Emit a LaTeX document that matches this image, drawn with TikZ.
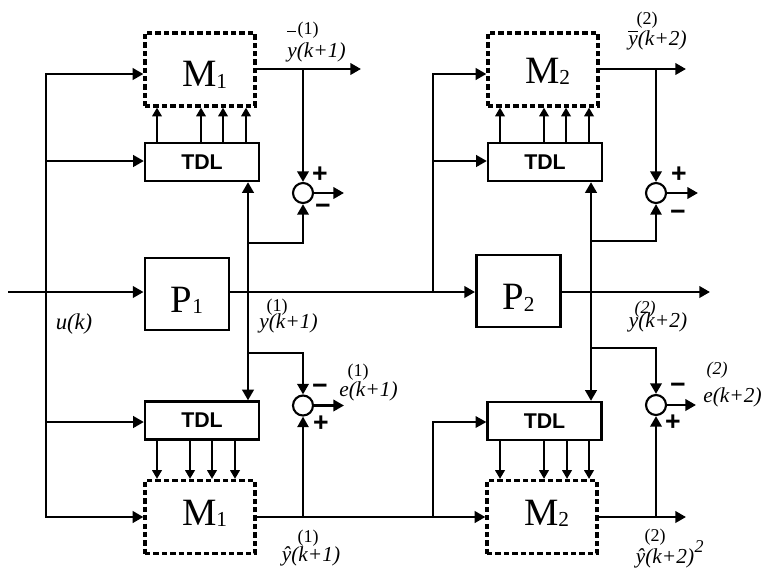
\documentclass[tikz,border=0pt]{standalone}
\usepackage{fontspec}
\setmainfont{Liberation Serif}
\setsansfont{Liberation Sans}
\usetikzlibrary{arrows.meta}
\newcommand\blk[4]{\smash{\raisebox{#1}{\hspace*{#2}#3\raisebox{-1pt}{\fontsize{16}{16}\selectfont #4}}}}
\newcommand\ybar[2]{\rlap{\smash{\raisebox{#1}{\rule{#2}{0.06em}}}}}
\begin{document}
\begin{tikzpicture}[x=0.75pt,y=-0.75pt,
  ln/.style={line width=2.0pt},
  lnthin/.style={line width=1.4pt},
  arr/.style={ln,-{Triangle[length=8pt,width=8.5pt]}},
  arrthin/.style={lnthin,-{Triangle[length=8pt,width=8.5pt]}},
  sarr/.style={line width=1.8pt,-{Triangle[length=6.5pt,width=7pt]}},
  mbox/.style={draw,line width=2.4pt,dash pattern=on 4pt off 2.3pt,minimum width=82.5pt,minimum height=54.75pt,inner sep=0pt,font=\fontsize{29}{30}\selectfont},
  tdl/.style={draw,line width=1.7pt,minimum width=85.5pt,minimum height=28.5pt,inner sep=0pt,font=\sffamily\bfseries\fontsize{16}{16}\selectfont},
  pbox/.style={draw,line width=2.2pt,minimum width=63pt,minimum height=54pt,inner sep=0pt,font=\fontsize{29}{30}\selectfont},
  sum/.style={draw,circle,line width=1.6pt,minimum size=15pt,inner sep=0pt},
  sgn/.style={inner sep=0pt,font=\sffamily\bfseries\fontsize{20}{20}\selectfont},
  lab/.style={inner sep=0pt,font=\itshape\fontsize{16}{16}\selectfont},
  sup/.style={inner sep=0pt,font=\fontsize{13.5}{14}\selectfont},
  supit/.style={inner sep=0pt,font=\itshape\fontsize{13.5}{14}\selectfont},
]
\path[fill=white,use as bounding box] (0,0) rectangle (762,568);

% blocks
\node[mbox] (M1a) at (200,69.5) {\blk{-13pt}{6.8pt}{M}{1}};
\node[tdl]  (TDL1a) at (202,162) {TDL};
\node[pbox] (P1) at (187,294) {\blk{-13.5pt}{0pt}{P}{1}};
\node[tdl]  (TDL1b) at (202,420.5) {TDL};
\node[mbox] (M1b) at (200,517) {\blk{-6pt}{6.8pt}{M}{1}};
\node[mbox] (M2a) at (543,69.5) {\blk{-10.5pt}{6.8pt}{M}{2}};
\node[tdl]  (TDL2a) at (545,162) {TDL};
\node[pbox] (P2) at (518.5,291) {\blk{-14pt}{0pt}{P}{2}};
\node[tdl]  (TDL2b) at (544.5,421) {TDL};
\node[mbox] (M2b) at (542,517) {\blk{-6pt}{6.8pt}{M}{2}};

% summing junctions
\node[sum] (S1a) at (303,193) {};
\node[sum] (S1b) at (303,405.5) {};
\node[sum] (S2a) at (656,193) {};
\node[sum] (S2b) at (656,405) {};

% signs
\node[sgn] (sp1a) at (320,175) {+};
\node[sgn] (sm1a) at (323,209) {−};
\node[sgn] (sp2a) at (679,175) {+};
\node[sgn] (sm2a) at (678,215) {−};
\node[sgn] (sm1b) at (320,389) {−};
\node[sgn] (sp1b) at (321,424) {+};
\node[sgn] (sm2b) at (678,388) {−};
\node[sgn] (sp2b) at (673,423) {+};

% coordinates
\coordinate (in) at (8,292);
\coordinate (bus1) at (46,74);
\coordinate (bus2) at (46,161);
\coordinate (bus3) at (46,422);
\coordinate (bus4) at (46,517);
\coordinate (j1) at (248,292);
\coordinate (k1) at (248,243);
\coordinate (k2) at (248,353);
\coordinate (o1) at (361,69);
\coordinate (e1a) at (344,193);
\coordinate (e1b) at (344,405.5);
\coordinate (j2) at (433,292);
\coordinate (c1) at (433,74);
\coordinate (c2) at (433,161);
\coordinate (c3) at (433,422);
\coordinate (o2) at (686,69);
\coordinate (o3) at (710,292);
\coordinate (o4) at (686,517);
\coordinate (e2a) at (698,193);
\coordinate (e2b) at (696,405);
\coordinate (j3) at (591,292);
\coordinate (k3) at (591,241);
\coordinate (k4) at (591,348);

% input and left bus
\draw[arr] (in) -- (in -| P1.west);
\draw[arr] (bus4) -- (bus1) -- (bus1 -| M1a.west);
\draw[arr] (bus1) -- (bus4) -- (bus4 -| M1b.west);
\draw[arr] (bus2) -- (bus2 -| TDL1a.west);
\draw[arr] (bus3) -- (bus3 -| TDL1b.west);

% plant chain
\draw[arr] (in -| P1.east) -- (in -| P2.west);
\draw[arr] (in -| P2.east) -- (o3);
\draw[arr] (j2) -- (c1) -- (c1 -| M2a.west);
\draw[arr] (c2) -- (c2 -| TDL2a.west);

% stage 1 plant output
\draw[arr] (j1) -- (j1 |- TDL1a.south);
\draw[arr] (j1) -- (j1 |- TDL1b.north);
\draw[arr] (k1) -- (k1 -| S1a.south) -- (S1a.south);
\draw[arr] (k2) -- (k2 -| S1b.north) -- (S1b.north);

% stage 1 top model output
\draw[arr] (M1a.east |- o1) -- (o1);
\draw[arr] (o1 -| S1a.north) -- (S1a.north);
\draw[arr] (S1a.east) -- (e1a);

% stage 1 bottom model output
\draw[arr] (M1b.east) -- (M2b.west);
\draw[arrthin] (M1b.east -| S1b.south) -- (S1b.south);
\draw[arr] (S1b.east) -- (e1b);
\draw[arrthin] (c3 |- M1b.east) -- (c3) -- (c3 -| TDL2b.west);

% stage 2 plant output
\draw[arr] (j3) -- (j3 |- TDL2a.south);
\draw[arr] (j3) -- (j3 |- TDL2b.north);
\draw[arrthin] (k3) -- (k3 -| S2a.south) -- (S2a.south);
\draw[arr] (k4) -- (k4 -| S2b.north) -- (S2b.north);

% stage 2 model outputs
\draw[arr] (M2a.east |- o2) -- (o2);
\draw[arr] (o2 -| S2a.north) -- (S2a.north);
\draw[arr] (S2a.east) -- (e2a);
\draw[arr] (M2b.east) -- (o4);
\draw[arr] (o4 -| S2b.south) -- (S2b.south);
\draw[arr] (S2b.east) -- (e2b);

% tapped delay line outputs
\foreach \x in {157,201,223,246}{\coordinate (t) at (\x,0); \draw[sarr] (TDL1a.north -| t) -- (M1a.south -| t);}
\foreach \x in {157,190,212,235}{\coordinate (t) at (\x,0); \draw[sarr] (TDL1b.south -| t) -- (M1b.north -| t);}
\foreach \x in {500,544,566,589}{\coordinate (t) at (\x,0); \draw[sarr] (TDL2a.north -| t) -- (M2a.south -| t);}
\foreach \x in {500,544,567,589}{\coordinate (t) at (\x,0); \draw[sarr] (TDL2b.south -| t) -- (M2b.north -| t);}

% labels
\node[lab] (ly1) at (316.5,52) {\ybar{1.17em}{0.4em}y(k+1)};
\node[sup] (ly1s) at (308,30) {(1)};
\node[lab] (ly2) at (657.5,40) {\ybar{0.62em}{0.47em}y(k+2)};
\node[sup] (ly2s) at (647,20) {(2)};
\node[lab,font=\itshape\fontsize{17}{17}\selectfont] (lu) at (74,324) {u(k)};
\node[lab] (lym1) at (288.5,323.5) {y(k+1)};
\node[sup] (lym1s) at (277,307) {(1)};
\node[lab] (le1) at (368.5,391) {e(k+1)};
\node[sup] (le1s) at (358,372) {(1)};
\node[lab] (lym2) at (658,322) {y(k+2)};
\node[supit] (lym2s) at (645,309) {(2)};
\node[lab] (le2) at (732.5,397) {e(k+2)};
\node[supit] (le2s) at (717,370) {(2)};
\node[lab] (lh1) at (311,556) {ŷ(k+1)};
\node[sup] (lh1s) at (308,538) {(1)};
\node[lab] (lh2) at (665,558) {ŷ(k+2)};
\node[sup] (lh2s) at (655,537) {(2)};
\node[supit] (lh2e) at (699,547) {2};
\end{tikzpicture}
\end{document}
